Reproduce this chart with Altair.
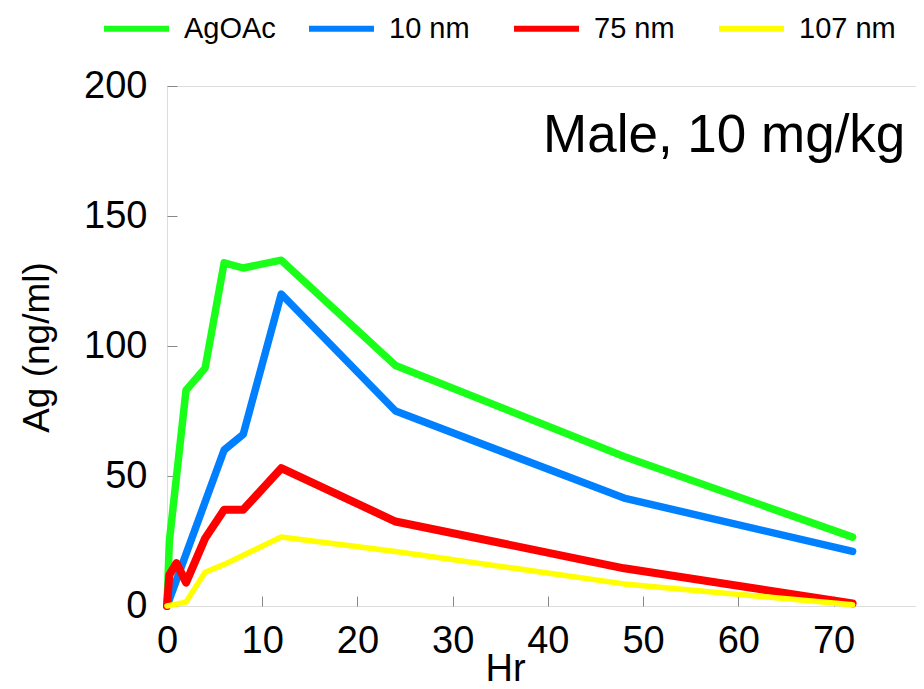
import altair as alt
import pandas as pd

series = ["AgOAc", "10 nm", "75 nm", "107 nm"]
colors = ["#19ff19", "#0080ff", "#ff0000", "#ffff00"]
widths = [7.5, 7.5, 8, 5.5]

agoac_hr = [0, 0.25, 2, 4, 6, 8, 12, 24, 48, 72]
agoac_ag = [0, 25, 83, 91.5, 132, 130, 133, 92.5, 57.5, 26.5]

nm10_hr = [0, 6, 8, 12, 24, 48, 72]
nm10_ag = [0, 60, 66, 120, 75, 41.5, 21]

nm75_hr = [0, 0.25, 1, 2, 4, 6, 8, 12, 24, 48, 72]
nm75_ag = [0, 12, 16.5, 9, 26, 37, 37, 53, 32.5, 14.5, 1]

nm107_hr = [0, 2, 4, 6, 12, 24, 48, 72]
nm107_ag = [0, 1.5, 13, 16, 26.5, 21, 8.5, 0.5]

x_ticks = [0, 10, 20, 30, 40, 50, 60, 70]
y_ticks = [0, 50, 100, 150, 200]
panel_label = ["Male, 10 mg/kg"]

FONT = "Liberation Sans"

rows = []
for name, hs, vs in zip(series,
                        [agoac_hr, nm10_hr, nm75_hr, nm107_hr],
                        [agoac_ag, nm10_ag, nm75_ag, nm107_ag]):
    for i, (h, v) in enumerate(zip(hs, vs)):
        rows.append({"series": name, "hr": h, "ag": v, "idx": i})
df = pd.DataFrame(rows)

x_enc = alt.X(
    "hr:Q",
    scale=alt.Scale(domain=[0, 79.5], nice=False, zero=False),
    axis=alt.Axis(values=x_ticks, title="Hr", offset=-10, tickSize=10,
                  domain=False, grid=False, labelPadding=16, labelFlush=False,
                  labelFontSize=38, titleFontSize=38,
                  titleX=338, titleY=84, titleBaseline="alphabetic",
                  titleAlign="center", titleFontWeight="normal"),
)
y_enc = alt.Y(
    "ag:Q",
    scale=alt.Scale(domain=[0, 200], nice=False),
    axis=alt.Axis(values=y_ticks, title="Ag (ng/ml)", offset=-10, tickSize=10,
                  domain=False, grid=False, labelPadding=20, labelFlush=False,
                  labelFontSize=38, titleFontSize=37,
                  titleX=-140, titleY=261, titleAngle=-90,
                  titleBaseline="middle", titleAlign="center",
                  titleFontWeight="normal"),
)
color_enc = alt.Color(
    "series:N",
    scale=alt.Scale(domain=series, range=colors),
    legend=alt.Legend(orient="none", legendX=-66, legendY=-93,
                      direction="horizontal", columns=4, title=None,
                      symbolType="stroke", symbolSize=4225,
                      symbolStrokeWidth=6, labelFontSize=29,
                      labelFont=FONT, labelOffset=12, columnPadding=16,
                      gridAlign="all"),
)

layers = []
for name, w in zip(series, widths):
    layers.append(
        alt.Chart(df)
        .transform_filter(alt.datum.series == name)
        .mark_line(strokeWidth=w, strokeCap="round", strokeJoin="round")
        .encode(x=x_enc, y=y_enc, color=color_enc, order="idx:Q")
    )

label = (
    alt.Chart(pd.DataFrame({"label": panel_label}))
    .mark_text(font=FONT, fontSize=53, align="left", baseline="alphabetic",
               color="black")
    .encode(x=alt.value(376), y=alt.value(66), text="label:N")
)

chart = (
    alt.layer(*layers, label)
    .properties(width=757, height=520,
                autosize=alt.AutoSizeParams(type="none"),
                padding={"left": 159, "top": 78, "right": -8, "bottom": 75})
    .configure_view(stroke="#555555", strokeWidth=1.5)
    .configure_axis(labelFont=FONT, titleFont=FONT, labelColor="black",
                    titleColor="black", tickColor="#555555", tickWidth=1.5)
    .configure(background="white")
)

chart.save("out.html", embed_options={"renderer": "svg", "actions": False})
